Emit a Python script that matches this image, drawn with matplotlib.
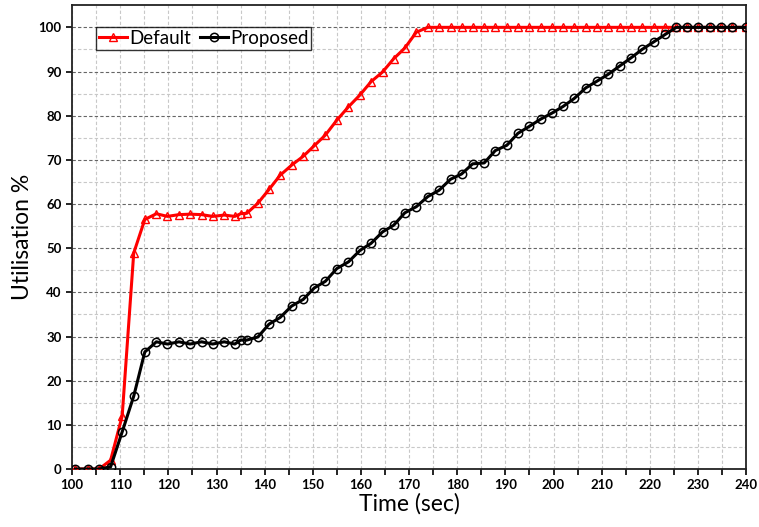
import numpy as np
import matplotlib.pyplot as plt
from matplotlib.ticker import MultipleLocator

plt.rcParams['font.family'] = ['Lato', 'DejaVu Sans']

# sample times (sec)
time_sec = [100.7, 103.2, 105.6, 108.0, 110.4, 112.8, 115.1, 117.5, 119.8, 122.2,
            124.5, 126.9, 129.2, 131.6, 133.8, 135.0, 136.3, 138.6, 140.9, 143.2,
            145.6, 148.0, 150.3, 152.6, 155.0, 157.4, 159.8, 162.1, 164.5, 166.8,
            169.1, 171.5, 173.9, 176.2, 178.6, 180.9, 183.2, 185.6, 187.9, 190.3,
            192.6, 195.0, 197.3, 199.7, 202.0, 204.3, 206.7, 209.0, 211.4, 213.8,
            216.1, 218.4, 220.8, 223.2, 225.5, 227.8, 230.1, 232.5, 234.8, 237.1,
            240.0]

default_util = [0, 0, 0, 2.0, 12.0, 48.9, 56.5, 57.8, 57.2, 57.6,
                57.7, 57.6, 57.2, 57.5, 57.2, 57.8, 57.9, 60.2, 63.3, 66.5,
                68.8, 70.8, 73.2, 75.6, 79.0, 82.0, 84.7, 87.7, 89.9, 92.9,
                95.3, 98.9, 100, 100, 100, 100, 100, 100, 100, 100,
                100, 100, 100, 100, 100, 100, 100, 100, 100, 100,
                100, 100, 100, 100, 100, 100, 100, 100, 100, 100,
                100]

proposed_util = [0, 0, 0, 0.5, 8.4, 16.5, 26.5, 28.8, 28.3, 28.8,
                 28.3, 28.8, 28.3, 28.8, 28.3, 29.2, 29.2, 29.9, 32.8, 34.3,
                 36.9, 38.4, 41.0, 42.5, 45.4, 46.9, 49.5, 51.1, 53.7, 55.2,
                 58.0, 59.4, 61.7, 63.1, 65.6, 66.8, 69.1, 69.3, 72.1, 73.3,
                 76.0, 77.6, 79.2, 80.6, 82.1, 83.9, 86.3, 87.8, 89.4, 91.3,
                 93.1, 95.0, 96.7, 98.4, 100, 100, 100, 100, 100, 100,
                 100]

fig = plt.figure(figsize=(7.59, 5.27), dpi=100)
ax = fig.add_axes([0.095, 0.11, 0.888, 0.88])

ax.plot(time_sec, default_util, color='#ff0000', lw=2.2, marker='^', ms=6,
        mfc='none', mec='#ff0000', mew=1.0, label='Default', zorder=3)
ax.plot(time_sec, proposed_util, color='black', lw=2.2, marker='o', ms=6,
        mfc='none', mec='black', mew=1.1, label='Proposed', zorder=4)

ax.set_xlim(100, 240)
ax.set_ylim(0, 105)
ax.xaxis.set_major_locator(MultipleLocator(10))
ax.xaxis.set_minor_locator(MultipleLocator(5))
ax.set_yticks(np.arange(0, 101, 10))
ax.set_yticks(np.arange(5, 101, 10), minor=True)

# grid: light dashed everywhere, darker dashed on the y majors
ax.grid(which='both', axis='x', color='#c8c8c8', linestyle=(0, (3, 2)), lw=0.8)
ax.grid(which='minor', axis='y', color='#c8c8c8', linestyle=(0, (3, 2)), lw=0.8)
ax.grid(which='major', axis='y', color='#666666', linestyle=(0, (3, 2)), lw=0.8)
ax.set_axisbelow(True)

ax.tick_params(which='both', direction='out', length=4, width=1.2, labelsize=9.5)
ax.tick_params(axis='y', which='minor', length=0)
for lab in ax.get_xticklabels() + ax.get_yticklabels():
    lab.set_fontweight('bold')
for s in ax.spines.values():
    s.set_linewidth(1.3)
    s.set_color('#222222')

ax.set_xlabel('Time (sec)', fontsize=16.5, labelpad=1)
ax.set_ylabel('Utilisation %', fontsize=16.5, labelpad=4)

leg = ax.legend(loc='upper left', bbox_to_anchor=(0.0356, 0.953), ncol=2,
                fontsize=13.5, frameon=True, fancybox=False, borderpad=0.15,
                handlelength=1.5, handletextpad=0.1, columnspacing=0.5,
                borderaxespad=0)
leg.get_frame().set_edgecolor('black')
leg.get_frame().set_linewidth(1.0)

plt.savefig('out.png', dpi=100)
